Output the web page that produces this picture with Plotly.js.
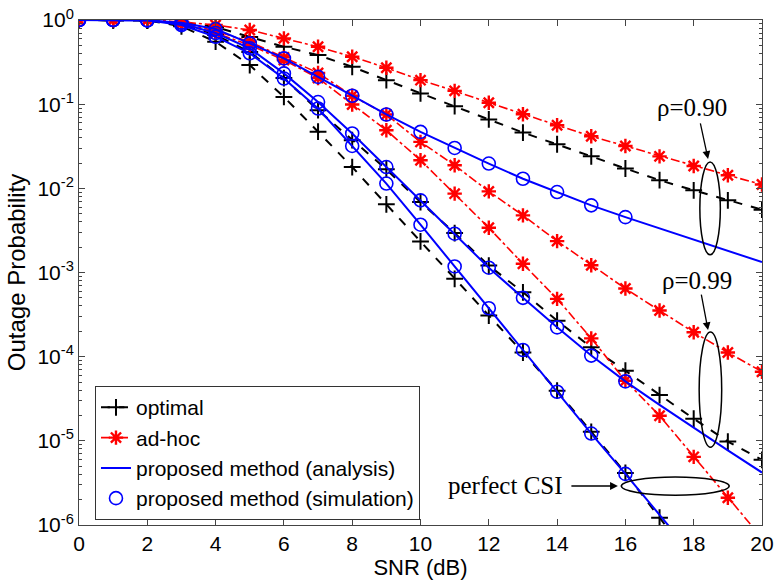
<!DOCTYPE html>
<html>
<head>
<meta charset="utf-8">
<script src="https://cdn.plot.ly/plotly-3.0.1.min.js"></script>
<style>html,body{margin:0;padding:0;background:#fff;}#chart{width:777px;height:581px;}</style>
</head>
<body>
<div id="chart"></div>
<script>
// SNR values (dB)
const snr = [0,1,2,3,4,5,6,7,8,9,10,11,12,13,14,15,16,17,18,19,20];
const snrPerfect = [0,1,2,3,4,5,6,7,8,9,10,11,12,13,14,15,16,17,18];
const snrSim = [0,1,2,3,4,5,6,7,8,9,10,11,12,13,14,15,16];

// rho = 0.90
const optimal90 = [1,1,0.99,0.93,0.826,0.63,0.481,0.383,0.278,0.193,0.134,0.0947,0.0658,0.046,0.0334,0.024,0.0172,0.0125,0.00947,0.0072,0.00557];
const adhoc90   = [1,1,1,0.95,0.872,0.76,0.605,0.481,0.366,0.271,0.193,0.144,0.104,0.076,0.0562,0.0416,0.0319,0.024,0.0184,0.0143,0.0111];
const prop90    = [1,1,0.99,0.93,0.781,0.528,0.35,0.211,0.126,0.0754,0.0468,0.0302,0.0197,0.013,0.00903,0.00628,0.00455,0.00334,0.00247,0.0018,0.00133];
const sim90     = [1,1,0.99,0.93,0.781,0.528,0.35,0.211,0.126,0.0754,0.0468,0.0302,0.0197,0.013,0.00903,0.00628,0.00455];

// rho = 0.99
const optimal99 = [1,1,0.99,0.9,0.663,0.416,0.204,0.0848,0.0373,0.0168,0.00687,0.00294,0.00121,0.000582,0.000268,0.000129,6.81e-5,3.5e-5,1.83e-5,9.8e-6,5.94e-6];
const adhoc99   = [1,1,1,0.92,0.74,0.552,0.36,0.235,0.126,0.0754,0.0356,0.0188,0.0092,0.00477,0.00236,0.00122,0.000645,0.000353,0.000195,0.000112,6.63e-5];
const prop99    = [1,1,0.99,0.9,0.70,0.461,0.232,0.106,0.0448,0.0179,0.0072,0.00289,0.00114,0.0005,0.000223,0.000103,5.08e-5,2.68e-5,1.43e-5,7.7e-6,4.2e-6];
const sim99     = [1,1,0.99,0.9,0.70,0.461,0.232,0.106,0.0448,0.0179,0.0072,0.00289,0.00114,0.0005,0.000223,0.000103,5.08e-5];

// perfect CSI
const optimalP = [1,1,0.99,0.84,0.552,0.291,0.122,0.0471,0.0179,0.00645,0.00234,0.00084,0.000308,0.000112,3.94e-5,1.28e-5,4.16e-6,1.22e-6,3.7e-7];
const adhocP   = [1,1,1,0.9,0.70,0.504,0.334,0.204,0.0991,0.049,0.0216,0.00865,0.0034,0.00127,0.000486,0.000165,5.18e-5,1.99e-5,6.45e-6,2.11e-6,7e-7];
const propP    = [1,1,0.99,0.87,0.633,0.402,0.202,0.0889,0.0319,0.0114,0.0037,0.00118,0.000376,0.00012,3.83e-5,1.22e-5,4.05e-6,1.32e-6,4.3e-7];
const simP     = [1,1,0.99,0.87,0.633,0.402,0.202,0.0889,0.0319,0.0114,0.0037,0.00118,0.000376,0.00012,3.83e-5,1.22e-5,4.05e-6];

// tick labels
const yTickVals = [1e-6,1e-5,1e-4,1e-3,1e-2,1e-1,1];
const yTickText = ['10<sup>-6</sup>','10<sup>-5</sup>','10<sup>-4</sup>','10<sup>-3</sup>','10<sup>-2</sup>','10<sup>-1</sup>','10<sup>0</sup>'];

const minorVals = [];
for (let e = -6; e < 0; e++) for (let m = 2; m <= 9; m++) minorVals.push(m * Math.pow(10, e));

const FONT = 'Liberation Sans, Arial, sans-serif';
const SERIF = 'Liberation Serif, Times New Roman, serif';

function optTrace(x, y, show) {
  return {x: x, y: y, type: 'scatter', mode: 'lines+markers', name: 'optimal', showlegend: show, legendrank: 1,
    line: {color: '#000000', width: 2, dash: 'dash'},
    marker: {symbol: 'cross-thin-open', size: 12, color: '#000000', line: {color: '#000000', width: 2}}};
}
function adhocTrace(x, y, show) {
  return {x: x, y: y, type: 'scatter', mode: 'lines+markers', name: 'ad-hoc', showlegend: show, legendrank: 2,
    line: {color: '#ff0000', width: 1.6, dash: 'dashdot'},
    marker: {symbol: 'asterisk-open', size: 12, color: '#ff0000', line: {color: '#ff0000', width: 2.4}}};
}
function propTrace(x, y, show) {
  return {x: x, y: y, type: 'scatter', mode: 'lines', name: 'proposed method (analysis)', showlegend: show, legendrank: 3,
    line: {color: '#0000ff', width: 2}};
}
function simTrace(x, y, show) {
  return {x: x, y: y, type: 'scatter', mode: 'markers', name: 'proposed method (simulation)', showlegend: show, legendrank: 4,
    marker: {symbol: 'circle-open', size: 13, color: '#0000ff', line: {color: '#0000ff', width: 1.6}}};
}

const data = [
  optTrace(snr, optimal90, true), optTrace(snr, optimal99, false), optTrace(snrPerfect, optimalP, false),
  adhocTrace(snr, adhoc90, true), adhocTrace(snr, adhoc99, false), adhocTrace(snr, adhocP, false),
  propTrace(snr, prop90, true), propTrace(snr, prop99, false), propTrace(snrPerfect, propP, false),
  simTrace(snrSim, sim90, true), simTrace(snrSim, sim99, false), simTrace(snrSim, simP, false)
];

const axisCommon = {
  showline: true, linecolor: '#444', linewidth: 1, mirror: 'ticks',
  ticks: 'inside', ticklen: 6, tickcolor: '#444', tickwidth: 1,
  showgrid: false, zeroline: false,
  tickfont: {family: FONT, size: 21, color: '#000'}
};

const layout = {
  width: 777, height: 581,
  margin: {l: 79, r: 15, t: 20, b: 56, pad: 0},
  paper_bgcolor: '#ffffff', plot_bgcolor: '#ffffff',
  font: {family: FONT, size: 21, color: '#000'},
  showlegend: true,
  legend: {x: 0.0234, y: 0.275, xanchor: 'left', yanchor: 'top', bgcolor: '#ffffff',
    bordercolor: '#333', borderwidth: 1, font: {family: FONT, size: 21, color: '#000'},
    tracegroupgap: 0, itemwidth: 30},
  xaxis: Object.assign({}, axisCommon, {
    range: [0, 20], tick0: 0, dtick: 2,
    title: {text: 'SNR (dB)', font: {family: FONT, size: 22, color: '#000'}, standoff: 0}
  }),
  yaxis: Object.assign({}, axisCommon, {
    type: 'log', range: [-6, 0], tickmode: 'array', tickvals: yTickVals, ticktext: yTickText,
    minor: {tickmode: 'array', tickvals: minorVals, ticks: 'inside', ticklen: 3, tickcolor: '#444', showgrid: false},
    title: {text: 'Outage Probability', font: {family: FONT, size: 24, color: '#000'}, standoff: 4}
  }),
  shapes: [
    {type: 'circle', xref: 'paper', yref: 'paper', x0: 0.909, x1: 0.939, y0: 0.535, y1: 0.719, line: {color: '#000', width: 1.5}},
    {type: 'circle', xref: 'paper', yref: 'paper', x0: 0.908, x1: 0.941, y0: 0.154, y1: 0.382, line: {color: '#000', width: 1.5}},
    {type: 'circle', xref: 'paper', yref: 'paper', x0: 0.794, x1: 0.952, y0: 0.059, y1: 0.095, line: {color: '#000', width: 1.5}}
  ],
  annotations: [
    {text: 'ρ=0.90', xref: 'paper', yref: 'paper', x: 0.897, y: 0.826, xanchor: 'center', yanchor: 'middle', showarrow: false, font: {family: SERIF, size: 25, color: '#000'}},
    {text: 'ρ=0.99', xref: 'paper', yref: 'paper', x: 0.905, y: 0.485, xanchor: 'center', yanchor: 'middle', showarrow: false, font: {family: SERIF, size: 25, color: '#000'}},
    {text: 'perfect CSI', xref: 'paper', yref: 'paper', x: 0.624, y: 0.079, xanchor: 'center', yanchor: 'middle', showarrow: false, font: {family: SERIF, size: 25, color: '#000'}},
    {text: '', xref: 'paper', yref: 'paper', x: 0.921, y: 0.725, ax: -8, ay: -37, showarrow: true, arrowhead: 2, arrowsize: 1.2, arrowwidth: 1.3, arrowcolor: '#000'},
    {text: '', xref: 'paper', yref: 'paper', x: 0.921, y: 0.386, ax: -7, ay: -37, showarrow: true, arrowhead: 2, arrowsize: 1.2, arrowwidth: 1.3, arrowcolor: '#000'},
    {text: '', xref: 'paper', yref: 'paper', x: 0.789, y: 0.0772, ax: -48, ay: 0, showarrow: true, arrowhead: 2, arrowsize: 1.2, arrowwidth: 1.3, arrowcolor: '#000'}
  ]
};

Plotly.newPlot('chart', data, layout, {displayModeBar: false, staticPlot: true});
</script>
</body>
</html>
